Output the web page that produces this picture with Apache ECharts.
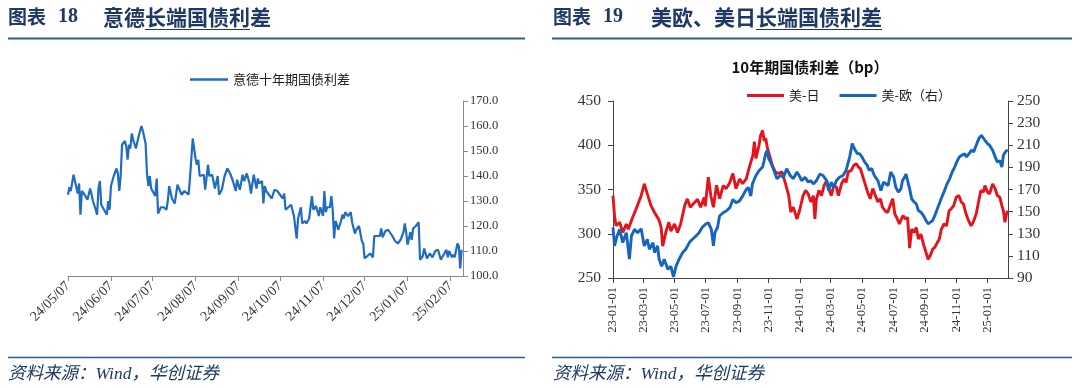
<!DOCTYPE html>
<html>
<head>
<meta charset="utf-8">
<script src="https://cdn.jsdelivr.net/npm/echarts@6/dist/echarts.min.js"></script>
<style>
html,body{margin:0;padding:0;background:#fff;}
#c{width:1080px;height:388px;}
</style>
</head>
<body>
<div id="c"></div>
<script>
// ---------------- DATA ----------------
// Left chart: Italy-Germany 10Y spread (bp)
const itDeDates = ['2024-05-07','2024-05-08','2024-05-09','2024-05-11','2024-05-12','2024-05-14','2024-05-15','2024-05-16','2024-05-17','2024-05-19','2024-05-21','2024-05-22','2024-05-23','2024-05-25','2024-05-27','2024-05-28','2024-05-29','2024-05-30','2024-05-31',
'2024-06-02','2024-06-04','2024-06-05','2024-06-06','2024-06-07','2024-06-09','2024-06-11','2024-06-12','2024-06-13','2024-06-14','2024-06-15','2024-06-17','2024-06-18','2024-06-19','2024-06-20','2024-06-21','2024-06-22','2024-06-23','2024-06-25','2024-06-27','2024-06-29','2024-06-30',
'2024-07-02','2024-07-03','2024-07-04','2024-07-05','2024-07-06','2024-07-08','2024-07-09','2024-07-10','2024-07-11','2024-07-13','2024-07-15','2024-07-17','2024-07-18','2024-07-19','2024-07-21','2024-07-23','2024-07-25','2024-07-26','2024-07-28','2024-07-30','2024-07-31',
'2024-08-02','2024-08-03','2024-08-05','2024-08-07','2024-08-08','2024-08-09','2024-08-10','2024-08-11','2024-08-13','2024-08-14','2024-08-16','2024-08-17','2024-08-19','2024-08-21','2024-08-23','2024-08-24','2024-08-26','2024-08-28','2024-08-30',
'2024-09-01','2024-09-03','2024-09-05','2024-09-06','2024-09-08','2024-09-10','2024-09-11','2024-09-13','2024-09-15','2024-09-16','2024-09-18','2024-09-20','2024-09-21','2024-09-22','2024-09-24','2024-09-25','2024-09-26','2024-09-27','2024-09-29',
'2024-10-01','2024-10-03','2024-10-05','2024-10-07','2024-10-09','2024-10-10','2024-10-11','2024-10-13','2024-10-15','2024-10-17','2024-10-19','2024-10-20','2024-10-22','2024-10-23','2024-10-25','2024-10-26','2024-10-28','2024-10-30','2024-10-31',
'2024-11-02','2024-11-04','2024-11-05','2024-11-07','2024-11-08','2024-11-09','2024-11-10','2024-11-12','2024-11-13','2024-11-14','2024-11-15','2024-11-16','2024-11-17','2024-11-18','2024-11-20','2024-11-21','2024-11-22','2024-11-23','2024-11-25','2024-11-27','2024-11-28','2024-11-30',
'2024-12-01','2024-12-03','2024-12-05','2024-12-06','2024-12-07','2024-12-09','2024-12-10','2024-12-11','2024-12-13','2024-12-14','2024-12-16','2024-12-18','2024-12-19','2024-12-20','2024-12-22','2024-12-24','2024-12-27','2024-12-29','2024-12-31',
'2025-01-02','2025-01-04','2025-01-05','2025-01-06','2025-01-07','2025-01-09','2025-01-10','2025-01-11','2025-01-13','2025-01-15','2025-01-16','2025-01-18','2025-01-19','2025-01-21','2025-01-23','2025-01-25','2025-01-27','2025-01-29','2025-01-31',
'2025-02-02','2025-02-04','2025-02-05','2025-02-06','2025-02-08','2025-02-09','2025-02-10','2025-02-12','2025-02-13','2025-02-14','2025-02-15'];
const itDeValues = [132.5,135.5,134,140.5,138,133,137,124.5,134,132.5,130.5,130,135,130,126.5,124.5,135,138,128.5,
126.5,124.5,130,126.5,136,140,143,141,134,140,152.5,154,152,146.5,152.5,151,157,154.5,151,156,160,158,
153,141,136,140,135,133,132,139,125,127.5,127.5,126.5,130,136,131,129,136.5,136,132.5,134,134.5,
132.5,139,155,147,144.5,146.5,140,140,140.5,134.5,144.5,140,140.5,135,140,132.5,134.5,140,143,
141,138,134,138.5,134.5,140.5,138,141,137,133,140.5,135,139,137,138,129,136,134,132.5,
131,134.5,134,132.5,131,133,126.5,127.5,128.5,124,115,123,127.5,121,122,121,123,132,126.5,
128,124,127.5,124,134,125.5,127.5,127.5,132,126.5,115,122,120.5,118.5,122,124.5,123,125.5,124,125.5,121.5,117,
118.5,120,114,113,107,108,107.5,109,107.5,116,116,116,119,115.5,118,118.5,116,114,113,
114.5,117.5,121,117.5,112.5,117.5,114.5,119,120,121.5,106.5,108,111,107,109,107.5,110,110.5,106.5,
108.5,110.5,107.5,110,107.5,108.5,107.5,113,112,103,110.5];

// Right chart: US-Japan 10Y spread (left axis, bp)
const usJpDates = ['2023-01-01','2023-01-04','2023-01-07','2023-01-14','2023-01-20','2023-01-27','2023-01-31','2023-02-06','2023-02-15','2023-02-25','2023-03-03','2023-03-09','2023-03-16','2023-03-23','2023-03-29','2023-04-01','2023-04-05','2023-04-08','2023-04-14','2023-04-20','2023-04-24','2023-05-01','2023-05-07','2023-05-13','2023-05-21','2023-05-26','2023-06-01','2023-06-07','2023-06-15','2023-06-21','2023-06-28','2023-06-30',
'2023-07-06','2023-07-11','2023-07-16','2023-07-22','2023-07-28','2023-08-04','2023-08-10','2023-08-17','2023-08-23','2023-08-29','2023-09-05','2023-09-11','2023-09-18','2023-09-24','2023-10-01','2023-10-04','2023-10-07','2023-10-13','2023-10-16','2023-10-20','2023-10-23','2023-10-26','2023-10-29','2023-11-01','2023-11-08','2023-11-14','2023-11-20','2023-11-27','2023-12-03','2023-12-10','2023-12-14','2023-12-19','2023-12-26','2023-12-31',
'2024-01-04','2024-01-07','2024-01-12','2024-01-17','2024-01-22','2024-01-27','2024-01-30','2024-02-02','2024-02-07','2024-02-12','2024-02-17','2024-02-22','2024-02-26','2024-03-02','2024-03-07','2024-03-12','2024-03-16','2024-03-22','2024-03-27','2024-03-31','2024-04-04','2024-04-10','2024-04-15','2024-04-20','2024-04-24','2024-04-28','2024-05-03','2024-05-07','2024-05-12','2024-05-17','2024-05-22','2024-05-26','2024-06-01','2024-06-06','2024-06-10','2024-06-15','2024-06-20','2024-06-25','2024-06-30',
'2024-07-04','2024-07-09','2024-07-13','2024-07-15','2024-07-20','2024-07-25','2024-07-29','2024-08-02','2024-08-06','2024-08-11','2024-08-15','2024-08-19','2024-08-24','2024-08-29','2024-09-03','2024-09-07','2024-09-11','2024-09-16','2024-09-20','2024-09-25','2024-09-29','2024-10-03','2024-10-08','2024-10-13','2024-10-18','2024-10-22','2024-10-27','2024-11-01','2024-11-06','2024-11-11','2024-11-15','2024-11-20','2024-11-25','2024-11-30','2024-12-04','2024-12-10','2024-12-15','2024-12-19','2024-12-24','2024-12-27',
'2025-01-01','2025-01-05','2025-01-11','2025-01-16','2025-01-20','2025-01-25','2025-01-29','2025-02-01','2025-02-04','2025-02-07','2025-02-09'];
const usJpValues = [343,320,309,313,301.5,311,305,315,328,343,356.5,345,332,324,318.5,315,307,286,301.5,313,303,311,301.5,311,332,339.4,330,334,339,330,341,331,
364,343,330,355,339.5,354.5,351,358,368,351,362,356.5,362,375,388.6,404,385,400,411,416.6,405,408,398,396,377,369.7,368,370,358,343,324.6,330,316.7,326,
335.6,343,349,345,336,343,316.7,339,349,343,354.5,360,351,343,354.5,352.6,343,356.4,362,358,369.7,371.6,377.3,379,375.4,373.5,364,356.4,347,339.5,351,345,336,339.5,330,326,324,331.8,339.5,
322.6,316.7,311,313,320.6,316.7,318.6,283.7,305.3,301.5,307.2,294,299.6,288.2,278.8,271.2,275,282.6,284.5,290,294,305.3,311,309,326,328,331.8,341.3,343.2,335.6,333.7,322.5,314.8,309,313,322.5,337.5,348.9,347,354.5,
347,345,356.4,350.8,343.2,341.3,331.8,326,313,322,326];

// Right chart: US-Euro 10Y spread (right axis, bp)
const usEuDates = ['2023-01-01','2023-01-04','2023-01-09','2023-01-14','2023-01-20','2023-01-27','2023-02-02','2023-02-06','2023-02-12','2023-02-18','2023-02-25','2023-03-03','2023-03-09','2023-03-13','2023-03-20','2023-03-23','2023-03-29','2023-04-01','2023-04-06','2023-04-11','2023-04-18','2023-04-24','2023-04-29','2023-05-04','2023-05-10','2023-05-17','2023-05-23','2023-05-30','2023-06-05','2023-06-12','2023-06-18','2023-06-24',
'2023-07-01','2023-07-06','2023-07-12','2023-07-16','2023-07-19','2023-07-24','2023-07-28','2023-08-04','2023-08-10','2023-08-17','2023-08-23','2023-08-29','2023-09-05','2023-09-11','2023-09-18','2023-09-22','2023-09-27','2023-09-30','2023-10-07','2023-10-13','2023-10-20','2023-10-23','2023-10-26','2023-10-29','2023-11-01','2023-11-06','2023-11-11','2023-11-17','2023-11-24','2023-11-30','2023-12-06','2023-12-13','2023-12-19','2023-12-26',
'2024-01-01','2024-01-04','2024-01-11','2024-01-17','2024-01-22','2024-01-27','2024-02-02','2024-02-09','2024-02-15','2024-02-22','2024-02-26','2024-03-02','2024-03-07','2024-03-12','2024-03-18','2024-03-25','2024-03-31','2024-04-07','2024-04-12','2024-04-16','2024-04-22','2024-04-26','2024-05-01','2024-05-06','2024-05-11','2024-05-15','2024-05-20','2024-05-25','2024-06-01','2024-06-07','2024-06-12','2024-06-17','2024-06-21','2024-06-26',
'2024-07-02','2024-07-06','2024-07-11','2024-07-16','2024-07-19','2024-07-23','2024-07-26','2024-07-29','2024-08-02','2024-08-06','2024-08-11','2024-08-15','2024-08-19','2024-08-24','2024-08-29','2024-09-03','2024-09-07','2024-09-11','2024-09-16','2024-09-20','2024-09-25','2024-09-30','2024-10-05','2024-10-09','2024-10-14','2024-10-19','2024-10-24','2024-10-29','2024-11-02','2024-11-07','2024-11-12','2024-11-17','2024-11-21','2024-11-26','2024-12-01','2024-12-05','2024-12-10','2024-12-15','2024-12-20','2024-12-23','2024-12-27',
'2025-01-01','2025-01-05','2025-01-11','2025-01-16','2025-01-20','2025-01-25','2025-01-29','2025-02-01','2025-02-05','2025-02-09'];
const usEuValues = [135.7,119,128,134,122,131,107,128,134,131,134.5,119,125,116,122,113,119,107,100.5,107,98,100.5,91,100.5,107,113,116,122,125,128,131,135.7,
138.8,140,134,119,131,135.7,146,149,150.6,153.6,161,158,159.7,164,170,171.8,164,175,182.7,187,190.3,196,202.4,205.4,197.9,193.4,187.4,179.8,182.7,181.2,188.8,182.7,179.8,185.8,
181.2,178,181,176.7,178,175,178,184,182.7,178,169,176.7,172,178,181,182.7,187.4,199.5,211.6,207,202.4,202.4,199.5,195,192,187.4,189,182.7,178,169,176.7,175,173.6,185.8,
181,172,167.6,170.6,178,181,184,178,170.6,161.5,158.5,157,151,149.5,146.4,142,139,140.3,142,146.4,152.4,158.5,164.5,169,175,179.6,185.8,190.3,195,199.5,201,202.4,199.5,202.4,205.5,204,210,216,219,217.5,214.5,
211.5,210,205.5,199.5,195,196,190.3,201,204,206];

// ---------------- BUILD ----------------
function buildDays(a, b) {
  const out = [];
  const p = s => Date.UTC(+s.slice(0, 4), +s.slice(5, 7) - 1, +s.slice(8, 10));
  let t = p(a); const e = p(b);
  while (t <= e) { out.push(new Date(t).toISOString().slice(0, 10)); t += 86400000; }
  return out;
}
const leftCats = buildDays('2024-05-07', '2025-02-16');
const rightCats = buildDays('2023-01-01', '2025-02-10');
function toSeries(cats, dates, vals) {
  const idx = {}; cats.forEach((c, i) => idx[c] = i);
  return dates.map((d, i) => [idx[d], vals[i]]);
}

const NAVY = '#1f3864';
const RULE = '#2e5c99';
const SERIF = '"Liberation Serif","Noto Sans CJK SC"';
const CJK = '"Noto Sans CJK SC"';

const leftTick = (i, v) => v.slice(8) === '07';
const rightTick = (i, v) => v.slice(8) === '01' && (+v.slice(5, 7)) % 2 === 1;

function txt(x, y, text, font, fill, align) {
  return { type: 'text', x: x, y: y, silent: true,
    style: { text: text, font: font, fill: fill || NAVY, align: align || 'left', verticalAlign: 'middle' } };
}
function ln(x1, y1, x2, y2, color, w) {
  return { type: 'line', silent: true, shape: { x1: x1, y1: y1, x2: x2, y2: y2 },
    style: { stroke: color, lineWidth: w } };
}

const chart = echarts.init(document.getElementById('c'), null, { renderer: 'canvas' });
chart.setOption({
  animation: false,
  backgroundColor: '#fff',
  grid: [
    { left: 68, right: 617, top: 101, bottom: 112 },
    { left: 613, right: 72, top: 101, bottom: 110 }
  ],
  legend: [
    { data: ['意德十年期国债利差'], left: 185, top: 68, icon: 'rect', itemWidth: 38, itemHeight: 2.5,
      textStyle: { fontFamily: CJK, fontSize: 13, color: '#222' } },
    { data: ['美-日', '美-欧（右）'], left: 742, top: 84, icon: 'rect', itemWidth: 37, itemHeight: 3, itemGap: 20,
      textStyle: { fontFamily: CJK, fontSize: 13, color: '#222' } }
  ],
  xAxis: [
    { type: 'category', gridIndex: 0, data: leftCats, boundaryGap: false,
      axisLine: { lineStyle: { color: '#8a8a8a', width: 1 } },
      axisTick: { interval: leftTick, length: 5, lineStyle: { color: '#8a8a8a' } },
      axisLabel: { interval: leftTick, rotate: 45, margin: 8, color: '#333', fontFamily: SERIF, fontSize: 14,
        formatter: v => v.slice(2).replace(/-/g, '/') },
      splitLine: { show: false } },
    { type: 'category', gridIndex: 1, data: rightCats, boundaryGap: false,
      axisLine: { lineStyle: { color: '#444', width: 1 } },
      axisTick: { interval: rightTick, length: 5, lineStyle: { color: '#444' } },
      axisLabel: { interval: rightTick, rotate: 90, margin: 9, color: '#333', fontFamily: SERIF, fontSize: 12.5,
        formatter: v => v.slice(2) },
      splitLine: { show: false } }
  ],
  yAxis: [
    { type: 'value', gridIndex: 0, position: 'right', min: 100, max: 170, interval: 10,
      axisLine: { show: true, lineStyle: { color: '#8a8a8a' } },
      axisTick: { show: true, length: 5, lineStyle: { color: '#8a8a8a' } },
      axisLabel: { margin: 7, color: '#333', fontFamily: SERIF, fontSize: 12.5, formatter: v => v.toFixed(1) },
      splitLine: { show: false } },
    { type: 'value', gridIndex: 1, position: 'left', min: 250, max: 450, interval: 50,
      axisLine: { show: true, lineStyle: { color: '#444' } },
      axisTick: { show: true, length: 5, lineStyle: { color: '#444' } },
      axisLabel: { margin: 12, color: '#333', fontFamily: SERIF, fontSize: 15.5 },
      splitLine: { show: false } },
    { type: 'value', gridIndex: 1, position: 'right', min: 90, max: 250, interval: 20,
      axisLine: { show: true, lineStyle: { color: '#444' } },
      axisTick: { show: true, length: 5, lineStyle: { color: '#444' } },
      axisLabel: { margin: 9, color: '#333', fontFamily: SERIF, fontSize: 15.5 },
      splitLine: { show: false } }
  ],
  series: [
    { name: '意德十年期国债利差', type: 'line', xAxisIndex: 0, yAxisIndex: 0, showSymbol: false,
      data: toSeries(leftCats, itDeDates, itDeValues),
      lineStyle: { width: 2.2, color: '#1f6cc2' }, itemStyle: { color: '#1f6cc2' } },
    { name: '美-日', type: 'line', xAxisIndex: 1, yAxisIndex: 1, showSymbol: false,
      data: toSeries(rightCats, usJpDates, usJpValues),
      lineStyle: { width: 2.9, color: '#e5141c' }, itemStyle: { color: '#e5141c' } },
    { name: '美-欧（右）', type: 'line', xAxisIndex: 1, yAxisIndex: 2, showSymbol: false,
      data: toSeries(rightCats, usEuDates, usEuValues),
      lineStyle: { width: 2.9, color: '#1565c0' }, itemStyle: { color: '#1565c0' } }
  ],
  graphic: [
    // left header
    txt(8, 17, '图表', 'bold 19px ' + CJK),
    txt(58, 17, '18', 'bold 20px ' + SERIF),
    txt(103, 17, '意德', 'bold 21px ' + CJK),
    txt(145, 17, '长端国债利', 'bold 21px ' + CJK),
    txt(250, 17, '差', 'bold 21px ' + CJK),
    ln(145, 29.5, 250, 29.5, NAVY, 1.2),
    ln(8, 38.5, 525, 38.5, RULE, 2),
    // right header
    txt(553, 17, '图表', 'bold 19px ' + CJK),
    txt(603, 17, '19', 'bold 20px ' + SERIF),
    txt(651, 17, '美欧、美日', 'bold 21px ' + CJK),
    txt(756, 17, '长端国债利差', 'bold 21px ' + CJK),
    ln(756, 29.5, 882, 29.5, NAVY, 1.2),
    ln(552, 38.5, 1072, 38.5, RULE, 2),
    // right chart title
    txt(810, 67, '10年期国债利差（bp）', 'bold 15px ' + CJK, '#111', 'center'),
    // footers
    ln(8, 357.5, 525, 357.5, RULE, 1.5),
    ln(552, 357.5, 1072, 357.5, RULE, 1.5),
    txt(8, 374, '资料来源：Wind，华创证券', 'italic 17.5px ' + SERIF),
    txt(553, 374, '资料来源：Wind，华创证券', 'italic 17.5px ' + SERIF)
  ]
});
</script>
</body>
</html>
